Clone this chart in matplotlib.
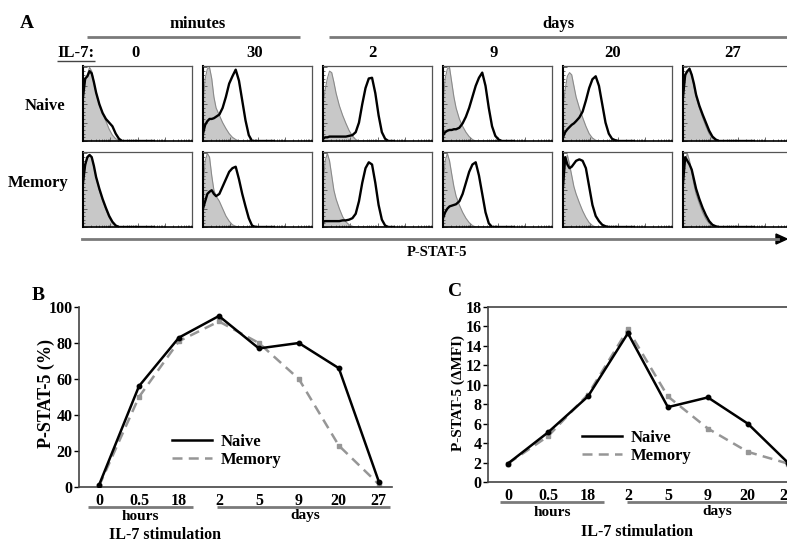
import matplotlib
matplotlib.use("Agg")
import matplotlib.pyplot as plt
from matplotlib.lines import Line2D
import numpy as np

# ---------------- data ----------------
# Panel A: flow histograms (relative count vs. log fluorescence, fraction of axis)
hist_grid = [0, .02, .04, .06, .08, .10, .12, .15, .18, .21, .24, .27, .30, .33,
             .36, .39, .42, .45, .48, .51, .54, .57, .60, .65]
col_labels = ['0', '30', '2', '9', '20', '27']
row_labels = ['Naive', 'Memory']

naive_ctrl = [
    [0.55, 0.80, 0.90, 1.00, 0.95, 0.80, 0.65, 0.50, 0.38, 0.27, 0.16, 0.08, 0.03, 0.01],
    [0.50, 0.85, 0.98, 1.00, 0.85, 0.60, 0.45, 0.35, 0.25, 0.17, 0.10, 0.05, 0.02, 0.0],
    [0.50, 0.70, 0.85, 0.95, 0.93, 0.80, 0.65, 0.48, 0.35, 0.24, 0.14, 0.07, 0.02, 0.0],
    [0.50, 0.85, 0.98, 1.00, 0.80, 0.60, 0.45, 0.30, 0.20, 0.12, 0.06, 0.02, 0.0],
    [0.45, 0.70, 0.88, 0.93, 0.90, 0.75, 0.60, 0.45, 0.32, 0.20, 0.10, 0.04, 0.01, 0.0],
    [0.55, 0.85, 0.95, 1.00, 0.90, 0.75, 0.60, 0.45, 0.32, 0.20, 0.10, 0.04, 0.01, 0.0],
]
naive_stim = [
    [0.60, 0.85, 0.88, 0.95, 0.92, 0.80, 0.66, 0.50, 0.38, 0.30, 0.25, 0.20, 0.10, 0.03, 0.0],
    [0.10, 0.22, 0.27, 0.30, 0.30, 0.31, 0.33, 0.36, 0.45, 0.60, 0.78, 0.88, 0.97, 0.82, 0.55,
     0.28, 0.08, 0.0],
    [0.03, 0.05, 0.05, 0.06, 0.06, 0.06, 0.06, 0.06, 0.06, 0.06, 0.07, 0.08, 0.12, 0.25, 0.50,
     0.72, 0.85, 0.86, 0.65, 0.35, 0.12, 0.03, 0.0],
    [0.08, 0.12, 0.14, 0.15, 0.15, 0.16, 0.16, 0.18, 0.24, 0.33, 0.45, 0.60, 0.75, 0.86, 0.93,
     0.75, 0.45, 0.20, 0.07, 0.02, 0.0],
    [0.05, 0.12, 0.16, 0.19, 0.22, 0.24, 0.27, 0.32, 0.40, 0.55, 0.72, 0.84, 0.88, 0.75, 0.50,
     0.25, 0.10, 0.03, 0.01, 0.0],
    [0.60, 0.90, 0.95, 0.98, 0.90, 0.78, 0.63, 0.48, 0.36, 0.25, 0.14, 0.06, 0.02, 0.0],
]
memory_ctrl = [
    [0.55, 0.80, 0.92, 0.98, 0.95, 0.82, 0.68, 0.50, 0.36, 0.24, 0.13, 0.06, 0.02, 0.0],
    [0.50, 0.90, 1.00, 0.95, 0.70, 0.50, 0.42, 0.35, 0.25, 0.15, 0.08, 0.03, 0.01, 0.0],
    [0.55, 0.90, 1.00, 0.90, 0.70, 0.50, 0.38, 0.25, 0.14, 0.07, 0.03, 0.01, 0.0],
    [0.55, 0.90, 1.00, 0.90, 0.72, 0.55, 0.42, 0.30, 0.20, 0.12, 0.06, 0.02, 0.0],
    [0.50, 0.85, 0.98, 0.85, 0.70, 0.55, 0.45, 0.33, 0.22, 0.13, 0.06, 0.02, 0.0],
    [0.55, 0.90, 1.00, 0.90, 0.75, 0.58, 0.45, 0.32, 0.20, 0.11, 0.05, 0.02, 0.0],
]
memory_stim = [
    [0.60, 0.85, 0.95, 0.98, 0.95, 0.83, 0.68, 0.52, 0.38, 0.26, 0.15, 0.07, 0.02, 0.0],
    [0.25, 0.35, 0.45, 0.48, 0.50, 0.45, 0.42, 0.45, 0.55, 0.65, 0.75, 0.80, 0.82, 0.65, 0.45,
     0.28, 0.12, 0.02, 0.0],
    [0.07, 0.08, 0.08, 0.08, 0.08, 0.08, 0.08, 0.08, 0.09, 0.09, 0.10, 0.12, 0.18, 0.35, 0.60,
     0.80, 0.88, 0.85, 0.60, 0.30, 0.10, 0.02, 0.0],
    [0.12, 0.20, 0.25, 0.28, 0.29, 0.30, 0.31, 0.35, 0.45, 0.60, 0.75, 0.85, 0.88, 0.70, 0.45,
     0.20, 0.05, 0.0],
    [0.55, 0.95, 0.85, 0.80, 0.82, 0.86, 0.90, 0.92, 0.90, 0.80, 0.55, 0.30, 0.15, 0.08, 0.03,
     0.01, 0.0],
    [0.60, 0.95, 0.90, 0.85, 0.78, 0.65, 0.52, 0.38, 0.26, 0.16, 0.08, 0.03, 0.01, 0.0],
]

# Panels B and C
time_labels = ['0', '0.5', '18', '2', '5', '9', '20', '27']
pct_naive = [1, 56, 83, 95, 77, 80, 66, 3]
pct_memory = [0.5, 50, 81, 92, 80, 60, 23, 1.5]
mfi_naive = [1.9, 5.1, 8.8, 15.3, 7.7, 8.7, 6.0, 2.0]
mfi_memory = [1.9, 4.7, 9.0, 15.7, 8.8, 5.5, 3.1, 1.9]

# ---------------- figure ----------------
W, H = 787, 544
plt.rcParams['font.family'] = ['Liberation Serif', 'DejaVu Serif']
plt.rcParams['font.weight'] = 'bold'
fig = plt.figure(figsize=(W / 100, H / 100), dpi=100)


def fx(x):
    return x / W


def fy(y):
    return 1 - y / H


def ftext(x, y, s, size=12, **kw):
    fig.text(fx(x), fy(y), s, fontsize=size, fontweight='bold',
             ha=kw.pop('ha', 'center'), va=kw.pop('va', 'center'), **kw)


def fline(x0, x1, y, color='#7a7a7a', lw=2.0):
    fig.add_artist(Line2D([fx(x0), fx(x1)], [fy(y), fy(y)], color=color, lw=lw,
                          transform=fig.transFigure, solid_capstyle='butt'))


def pad(vals):
    return list(vals) + [0.0] * (len(hist_grid) - len(vals))


# ---- Panel A ----
ftext(27, 23, 'A', size=14)
ftext(198, 24, 'minutes')
ftext(558, 24, 'days')
fline(87, 300, 37)
fline(329, 787, 37)
ftext(57, 53, 'IL-7:', ha='left')
fline(57, 95, 61, color='#444444', lw=1.0)
col_x = [136, 255, 372, 494, 613, 733]
for x, lab in zip(col_x, col_labels):
    ftext(x, 53, lab)
ftext(45, 106, row_labels[0])
ftext(38, 183, row_labels[1])

col_left = [83, 203, 323, 443, 563, 683]
row_top = [66, 152]
pw, ph = 109, 75
minor = []
for d in range(4):
    for k in range(2, 10):
        minor.append(d / 4 + np.log10(k) / 4)
major = [0, 0.25, 0.5, 0.75, 1.0]

for r, (ctrls, stims) in enumerate([(naive_ctrl, naive_stim), (memory_ctrl, memory_stim)]):
    for c in range(6):
        ax = fig.add_axes([fx(col_left[c]), fy(row_top[r] + ph), pw / W, ph / H])
        ctrl = pad(ctrls[c])
        stim = pad(stims[c])
        ax.fill_between(hist_grid, 0, ctrl, color='#c8c8c8', lw=0)
        ax.plot(hist_grid, ctrl, color='#8a8a8a', lw=0.8)
        ax.plot(hist_grid, stim, color='black', lw=1.7)
        ax.set_xlim(0, 1)
        ax.set_ylim(0, 1.02)
        ax.set_xticks(major)
        ax.set_xticks(minor, minor=True)
        ax.set_yticks(np.linspace(0, 1, 5))
        ax.set_yticks(np.linspace(0, 1, 21), minor=True)
        ax.tick_params(which='both', direction='in', labelbottom=False, labelleft=False,
                       color='#555555', width=0.6)
        ax.tick_params(which='major', length=3)
        ax.tick_params(which='minor', length=1.5)
        for sp in ax.spines.values():
            sp.set_color('#555555')
            sp.set_linewidth(0.9)
        ax.spines['left'].set_color('black')
        ax.spines['left'].set_linewidth(1.5)
        ax.spines['bottom'].set_color('black')
        ax.spines['bottom'].set_linewidth(1.2)

# arrow
fig.add_artist(Line2D([fx(82), fx(778)], [fy(239), fy(239)], color='#7a7a7a', lw=2.0,
                      transform=fig.transFigure))
fig.add_artist(plt.Polygon([[fx(776), fy(234)], [fx(787), fy(239)], [fx(776), fy(244)]],
                           closed=True, color='black', transform=fig.transFigure))
ftext(437, 253, 'P-STAT-5', size=10.5)


# ---- Panels B and C ----
def line_panel(rect, naive, memory, ylim, yticks, ylabel, ylab_x, ylab_size, top_spine,
               lines_y, hours_x, days_x, lab_y, stim_x, stim_y, leg_xy):
    ax = fig.add_axes(rect)
    xs = np.arange(len(time_labels))
    ax.plot(xs, naive, color='black', lw=1.8, marker='o', ms=3.2, zorder=3)
    ax.plot(xs, memory, color='#969696', lw=1.8, ls=(0, (4, 2.5)), marker='s', ms=3.5,
            zorder=2)
    ax.set_xlim(-0.5, 7.33)
    ax.set_ylim(*ylim)
    ax.set_xticks(xs)
    ax.set_xticklabels(time_labels)
    ax.set_yticks(yticks)
    ax.tick_params(axis='x', length=0, pad=4, labelsize=11.5)
    ax.tick_params(axis='y', length=3.5, width=1, pad=1, labelsize=11.5, direction='out')
    for lab in ax.get_xticklabels() + ax.get_yticklabels():
        lab.set_fontweight('bold')
    ax.spines['right'].set_visible(False)
    ax.spines['top'].set_visible(top_spine)
    for sp in ax.spines.values():
        sp.set_linewidth(1.2)
        sp.set_color('#444444')
    fig.text(fx(ylab_x), fy(393), ylabel, rotation=90, ha='center', va='center',
             fontsize=ylab_size, fontweight='bold')
    fline(hours_x[0], hours_x[1], lines_y)
    fline(days_x[0], days_x[1], lines_y)
    ftext((hours_x[0] + hours_x[1]) / 2, lab_y, 'hours', size=11)
    ftext(days_x[2], lab_y, 'days', size=11)
    ftext(stim_x, stim_y, 'IL-7 stimulation', size=11.5)
    handles = [Line2D([], [], color='black', lw=1.8),
               Line2D([], [], color='#969696', lw=1.8, ls=(0, (4, 2.5)))]
    ax.legend(handles, row_labels, loc='upper left',
              bbox_to_anchor=(fx(leg_xy[0]), fy(leg_xy[1])), bbox_transform=fig.transFigure,
              frameon=False, handlelength=2.4, handletextpad=0.5,
              labelspacing=0.12, borderpad=0, borderaxespad=0,
              prop={'weight': 'bold', 'size': 12})
    return ax


ftext(38, 296, 'B', size=14)
line_panel([fx(79), fy(487), 313 / W, 180 / H], pct_naive, pct_memory, (0, 100),
           range(0, 101, 20), 'P-STAT-5 (%)', 46, 13, False, 507,
           (88, 193), (217, 390, 305), 516, 165, 535, (172, 434))

ftext(455, 292, 'C', size=14)
line_panel([fx(488), fy(482), 313 / W, 175 / H], mfi_naive, mfi_memory, (0, 18),
           range(0, 19, 2), 'P-STAT-5 (ΔMFI)', 458, 11, True, 502,
           (500, 604), (627, 787, 717), 512, 637, 532, (582, 430))

fig.savefig('out.png', dpi=100)
